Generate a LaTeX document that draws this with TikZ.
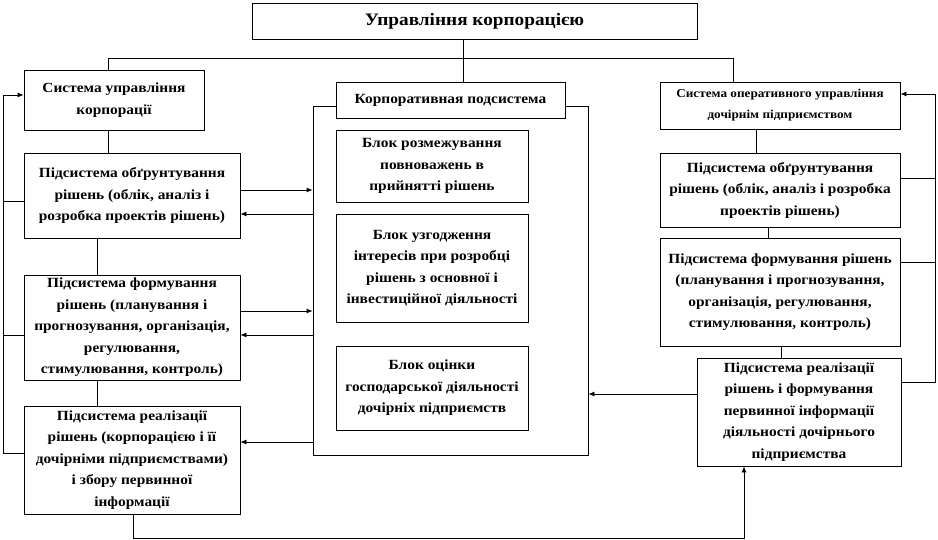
\documentclass[tikz,border=0pt]{standalone}
\usepackage{fontspec}
\setmainfont{Liberation Serif}
\newfontfamily\boxfont{Liberation Serif}[FakeStretch=1.1]
\usetikzlibrary{arrows.meta,positioning,calc}

\begin{document}
\begin{tikzpicture}[x=1pt,y=-1pt,
  line width=0.8pt,
  box/.style={draw, fill=white, inner sep=0pt, align=center, font=\boxfont\bfseries\fontsize{14}{21.5}\selectfont},
  arr/.style={-{Latex[length=6pt,width=5pt]}}]
  \useasboundingbox (0,0) rectangle (938,540);

  % Title
  \node[box, minimum width=445pt, minimum height=36pt, font=\boxfont\bfseries\fontsize{17.5}{20}\selectfont] (title) at (474.5,21) {Управління корпорацією};

  % Left column
  \node[box, minimum width=180pt, minimum height=60pt] (corp) at (114,100) {Система управління\\корпорації};
  \node[box, minimum width=216pt, minimum height=85pt] (leftA) at (132,195.5) {Підсистема обґрунтування\\рішень (облік, аналіз і\\розробка проектів рішень)};
  \node[box, minimum width=216pt, minimum height=105pt] (leftB) at (132,327.5) {Підсистема формування\\рішень (планування і\\прогнозування, організація,\\регулювання,\\стимулювання, контроль)};
  \node[box, minimum width=216pt, minimum height=108pt] (leftC) at (132,460) {Підсистема реалізації\\рішень (корпорацією і її\\дочірніми підприємствами)\\і збору первинної\\інформації};

  % Corporate subsystem
  \node[draw, minimum width=275pt, minimum height=349pt, inner sep=0pt] (corpouter) at (450.5,280.5) {};
  \node[box, minimum width=229pt, minimum height=36pt] (corplabel) at (450.5,100) {Корпоративная подсистема};
  \node[box, minimum width=192pt, minimum height=72pt] (blockA) at (432,166) {Блок розмежування\\повноважень в\\прийнятті рішень};
  \node[box, minimum width=192pt, minimum height=108pt] (blockB) at (432,268) {Блок узгодження\\інтересів при розробці\\рішень з основної і\\інвестиційної діяльності};
  \node[box, minimum width=192pt, minimum height=84pt] (blockC) at (432,388) {Блок оцінки\\господарської діяльності\\дочірніх підприємств};

  % Right column
  \node[box, minimum width=240pt, minimum height=47pt, font=\boxfont\bfseries\fontsize{12}{21}\selectfont] (opsys) at (780,105.5) {Система оперативного управління\\дочірнім підприємством};
  \node[box, minimum width=240pt, minimum height=74pt] (rightA) at (780,190) {Підсистема обґрунтування\\рішень (облік, аналіз і розробка\\проектів рішень)};
  \node[box, minimum width=240pt, minimum height=108pt] (rightB) at (780,292) {Підсистема формування рішень\\(планування і прогнозування,\\організація, регулювання,\\стимулювання, контроль)};
  \node[box, minimum width=204pt, minimum height=108pt] (rightC) at (799,412) {Підсистема реалізації\\рішень і формування\\первинної інформації\\діяльності дочірнього\\підприємства};

  % Top bus
  \coordinate (hub) at (463,58);
  \coordinate (busL) at (108,58);
  \coordinate (busR) at (733,58);
  \draw (title.south -| hub) -- (corplabel.north -| hub);
  \draw (corp.north -| busL) -- (busL) -- (busR) -- (opsys.north -| busR);

  % Left chain and feedback
  \coordinate (spineL) at (97,0);
  \draw (corp.south -| busL) -- (leftA.north -| busL);
  \draw (leftA.south -| spineL) -- (leftB.north -| spineL);
  \draw (leftB.south -| spineL) -- (leftC.north -| spineL);
  \coordinate (fbL) at (3,453);
  \coordinate (fbLtop) at (3,95);
  \draw[arr] (leftC.west |- fbL) -- (fbL) -- (fbLtop) -- (corp.west |- fbLtop);
  \draw (leftA.west |- 0,201) -- (fbL |- 0,201);
  \draw (leftB.west |- 0,335) -- (fbL |- 0,335);

  % Links to corporate subsystem
  \draw[arr] (leftA.east |- 0,190) -- (corpouter.west |- 0,190);
  \draw[arr] (corpouter.west |- 0,214) -- (leftA.east |- 0,214);
  \draw[arr] (leftB.east |- 0,311) -- (corpouter.west |- 0,311);
  \draw[arr] (corpouter.west |- 0,335) -- (leftB.east |- 0,335);
  \draw[arr] (corpouter.west |- 0,442) -- (leftC.east |- 0,442);
  \draw[arr] (rightC.west |- 0,394) -- (corpouter.east |- 0,394);

  % Right chain and feedback
  \draw (opsys.south -| 756,0) -- (rightA.north -| 756,0);
  \draw (rightA.south -| 768,0) -- (rightB.north -| 768,0);
  \draw (rightB.south -| 781,0) -- (rightC.north -| 781,0);
  \coordinate (fbR) at (935,382);
  \coordinate (fbRtop) at (935,94);
  \draw[arr] (rightC.east |- fbR) -- (fbR) -- (fbRtop) -- (opsys.east |- fbRtop);
  \draw (rightA.east |- 0,178) -- (fbR |- 0,178);
  \draw (rightB.east |- 0,262) -- (fbR |- 0,262);

  % Bottom loop
  \coordinate (loopL) at (133,538);
  \coordinate (loopR) at (744,538);
  \draw[arr] (leftC.south -| loopL) -- (loopL) -- (loopR) -- (rightC.south -| loopR);
\end{tikzpicture}
\end{document}
